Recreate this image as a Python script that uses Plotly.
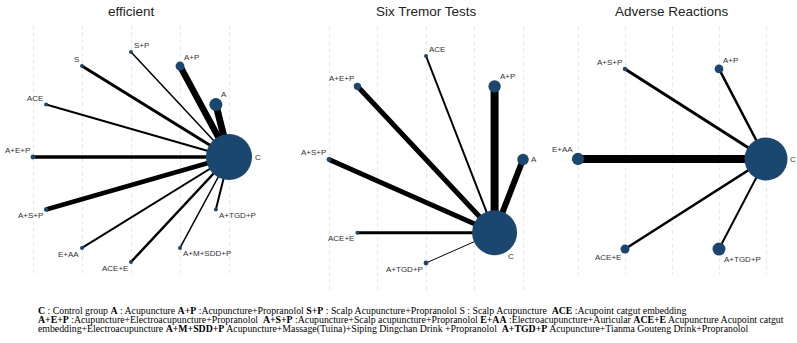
import math
import plotly.graph_objects as go

# ---------------- data ----------------
titles = ["efficient", "Six Tremor Tests", "Adverse Reactions"]

eff_nodes = ["C", "A", "A+P", "S+P", "S", "ACE", "A+E+P", "A+S+P", "E+AA", "ACE+E", "A+M+SDD+P", "A+TGD+P"]
eff_node_n = [1060, 85, 40, 8, 8, 8, 12, 10, 8, 8, 6, 8]
eff_edge_w = [7, 6.5, 1.5, 3, 2, 3.5, 4.5, 2, 2.5, 1.5, 2]      # edges C -> each other node

tre_nodes = ["C", "A", "A+P", "ACE", "A+E+P", "A+S+P", "ACE+E", "A+TGD+P"]
tre_node_n = [1012, 66, 76, 8, 27, 12, 8, 12]
tre_edge_w = [6, 8, 2, 5, 5, 3, 1]

adv_nodes = ["C", "A+P", "A+S+P", "E+AA", "ACE+E", "A+TGD+P"]
adv_node_n = [925, 38, 10, 76, 40, 84]
adv_edge_w = [2.5, 3, 8, 2.5, 2]

footer_lines = [
    "<b>C</b> : Control group <b>A</b> : Acupuncture <b>A+P</b> :Acupuncture+Propranolol <b>S+P</b> : Scalp Acupuncture+Propranolol S : Scalp Acupuncture  <b>ACE</b> :Acupoint catgut embedding",
    "<b>A+E+P</b> :Acupuncture+Electroacupuncture+Propranolol  <b>A+S+P</b> :Acupuncture+Scalp acupuncture+Propranolol <b>E+AA</b> :Electroacupuncture+Auricular <b>ACE+E</b> Acupuncture Acupoint catgut",
    "embedding+Electroacupuncture <b>A+M+SDD+P</b> Acupuncture+Massage(Tuina)+Siping Dingchan Drink +Propranolol  <b>A+TGD+P</b> Acupuncture+Tianma Gouteng Drink+Propranolol",
]

# ---------------- layout / style ----------------
W, H = 797, 343
NODE_COLOR = "#1a476f"
SIZEREF = 1.0
SIZEMIN = 2
START_ANGLE = [0, -45, 0]
# panel geometry in pixels: (x0, x1, y_top, y_bottom, center_x, center_y, px_per_unit_x, px_per_unit_y)
PANELS = [
    (5, 262, 25, 273, 131, 157, 98, 105),
    (297, 555, 27, 290, 426, 159.5, 97, 103.5),
    (560, 795, 27, 275, 672, 159, 94, 104),
]

datasets = [
    (eff_nodes, eff_node_n, eff_edge_w),
    (tre_nodes, tre_node_n, tre_edge_w),
    (adv_nodes, adv_node_n, adv_edge_w),
]


def circular_layout(n, start):
    angs = [(start + k * 360.0 / n) % 360 for k in range(n)]
    xs = [math.cos(math.radians(a)) for a in angs]
    ys = [math.sin(math.radians(a)) for a in angs]
    return angs, xs, ys


def label_spec(a, r):
    """anchor + pixel shift of a node label, from the node's angle and radius"""
    a = round(a, 6) % 360
    if a == 0:
        return "left", "middle", r + 2.5, 0
    dx = 0.5 * r + 2
    dy = 0.87 * r
    if a <= 90:
        return "left", "bottom", dx, dy
    if a <= 180:
        return "right", "bottom", -dx, dy
    if a <= 270:
        return "right", "top", -dx, -dy
    return "left", "top", dx, -dy


fig = go.Figure()
layout_axes = {}
annotations = []

for i, ((nodes, node_n, edge_w), geo) in enumerate(zip(datasets, PANELS)):
    x0, x1, yt, yb, cx, cy, ux, uy = geo
    ax = "" if i == 0 else str(i + 1)
    xa, ya = "x" + ax, "y" + ax
    angs, xs, ys = circular_layout(len(nodes), START_ANGLE[i])
    # edges: hub C (index 0) to each other node
    for j in range(1, len(nodes)):
        fig.add_trace(go.Scatter(
            x=[xs[0], xs[j]], y=[ys[0], ys[j]], mode="lines",
            line=dict(color="#000000", width=edge_w[j - 1]),
            xaxis=xa, yaxis=ya, hoverinfo="skip", showlegend=False,
        ))
    fig.add_trace(go.Scatter(
        x=xs, y=ys, mode="markers", text=nodes, hoverinfo="text",
        marker=dict(size=node_n, sizemode="area", sizeref=SIZEREF, sizemin=SIZEMIN,
                    color=NODE_COLOR, opacity=1, line=dict(width=0)),
        cliponaxis=False, xaxis=xa, yaxis=ya, showlegend=False,
    ))
    for name, n, a, x, y in zip(nodes, node_n, angs, xs, ys):
        r = max(math.sqrt(2 * n / SIZEREF), SIZEMIN) / 2
        xan, yan, sx, sy = label_spec(a, r)
        annotations.append(dict(
            text=name, x=x, y=y, xref=xa, yref=ya, xanchor=xan, yanchor=yan,
            xshift=sx, yshift=sy, showarrow=False, borderpad=0, borderwidth=0,
            font=dict(family="Liberation Sans, Arial", size=8, color="#333333"),
        ))
    xr = [(x0 - cx) / ux, (x1 - cx) / ux]
    yr = [-(yb - cy) / uy, (cy - yt) / uy]
    layout_axes["xaxis" + ax] = dict(
        domain=[x0 / W, x1 / W], range=xr, anchor=ya,
        tickvals=[-1, -0.5, 0, 0.5, 1], showticklabels=False, ticks="",
        showgrid=True, gridcolor="#e8e8e8", griddash="4px,3px", gridwidth=1,
        zeroline=False, showline=False, fixedrange=True,
    )
    layout_axes["yaxis" + ax] = dict(
        domain=[(H - yb) / H, (H - yt) / H], range=yr, anchor=xa,
        showticklabels=False, ticks="", showgrid=False, zeroline=False,
        showline=False, fixedrange=True,
    )
    annotations.append(dict(
        text=titles[i], x=cx / W, y=(H - 12) / H, xref="paper", yref="paper",
        xanchor="center", yanchor="middle", showarrow=False,
        font=dict(family="Liberation Sans, Arial", size=13.5, color="#222222"),
    ))

for k, line in enumerate(footer_lines):
    annotations.append(dict(
        text=line, x=38 / W, y=(H - (310 + 9.5 * k)) / H, xref="paper", yref="paper",
        xanchor="left", yanchor="middle", showarrow=False, align="left",
        borderpad=0, borderwidth=0,
        font=dict(family="Liberation Serif, Times New Roman", size=9.8, color="#000000"),
    ))

fig.update_layout(
    width=W, height=H, margin=dict(l=0, r=0, t=0, b=0),
    paper_bgcolor="white", plot_bgcolor="white",
    annotations=annotations, **layout_axes,
)

fig.write_html("out.html")
